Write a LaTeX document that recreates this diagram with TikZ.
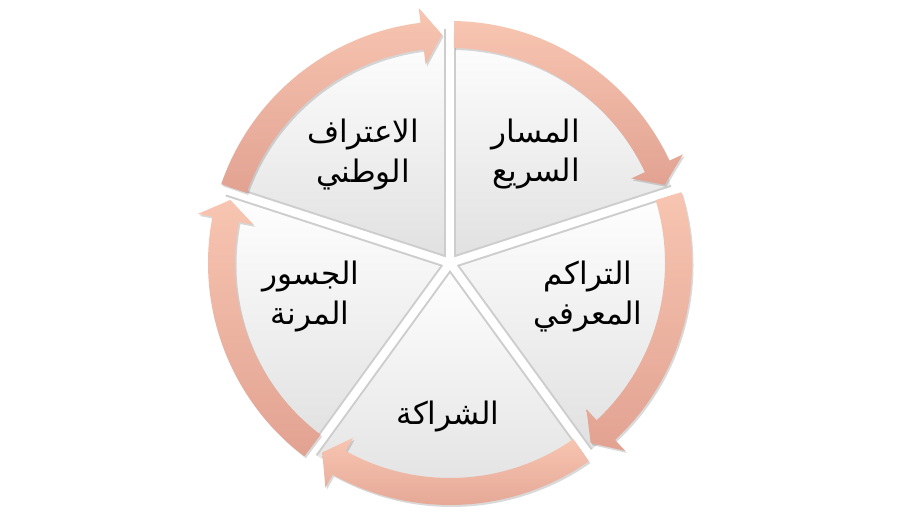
\documentclass[tikz,border=0pt]{standalone}
\usepackage{fontspec}
\newfontfamily\arabicfont[Script=Arabic]{DejaVu Sans}
\TeXXeTstate=1
\definecolor{arrlight}{HTML}{F7C5B1}
\definecolor{arrdark}{HTML}{E2A292}
\definecolor{seggray}{HTML}{E0E0E0}
\definecolor{gapgray}{HTML}{CDCDCD}
\newcommand{\cyclearrow}[3]{(#1:242) arc[start angle=#1, end angle=#2, radius=242] -- (#2:257) -- (#3:228.5) -- (#2:200) -- (#2:215) arc[start angle=#2, end angle=#1, radius=215] -- cycle}
\begin{document}
\begin{tikzpicture}[x=1pt,y=1pt,
  seg/.style={top color=white, bottom color=seggray},
  arr/.style={top color=arrlight, bottom color=arrdark},
  arrshadow/.style={fill=black, opacity=0.15},
  gapline/.style={draw=white, line width=8pt},
  gapshade/.style={draw=gapgray, line width=12pt},
  lbl/.style={font=\arabicfont\fontsize{31}{37}\selectfont, anchor=base, inner sep=0pt}]
\useasboundingbox (0,0) rectangle (900,526);
\fill[white] (0,0) rectangle (900,526);
\begin{scope}[shift={(450,263)}]
  \foreach \s in {90,18,-54,-126,-198}
    \shade[seg] (0,0) -- (\s:234) arc[start angle=\s, end angle=\s-72, radius=234] -- cycle;
  \foreach \s in {90,18,-54,-126,-198}
    \draw[gapshade] (0,0) -- (\s:234);
  \foreach \s in {90,18,-54,-126,-198}
    \draw[gapline] (0,0) -- (\s:240);
  \fill[white] (0,0) circle (6);
  \foreach \s [evaluate=\s as \a using \s-1, evaluate=\s as \b using \s-65, evaluate=\s as \c using \s-70] in {162,90,18,-54,-126} {
    \fill[arrshadow, xshift=1.5pt, yshift=-2pt] \cyclearrow{\a}{\b}{\c};
    \shade[arr] \cyclearrow{\a}{\b}{\c};
  }
\end{scope}
\node[lbl] (tl1) at (363,383) {\beginR الاعتراف\endR};
\node[lbl] (tl2) at (363,343) {\beginR الوطني\endR};
\node[lbl] (tr1) at (536,383) {\beginR المسار\endR};
\node[lbl] (tr2) at (536,344) {\beginR السريع\endR};
\node[lbl] (r1) at (588,241) {\beginR التراكم\endR};
\node[lbl] (r2) at (588,201) {\beginR المعرفي\endR};
\node[lbl] (b1) at (448,101) {\beginR الشراكة\endR};
\node[lbl] (l1) at (311,241) {\beginR الجسور\endR};
\node[lbl] (l2) at (310,201) {\beginR المرنة\endR};
\end{tikzpicture}
\end{document}
